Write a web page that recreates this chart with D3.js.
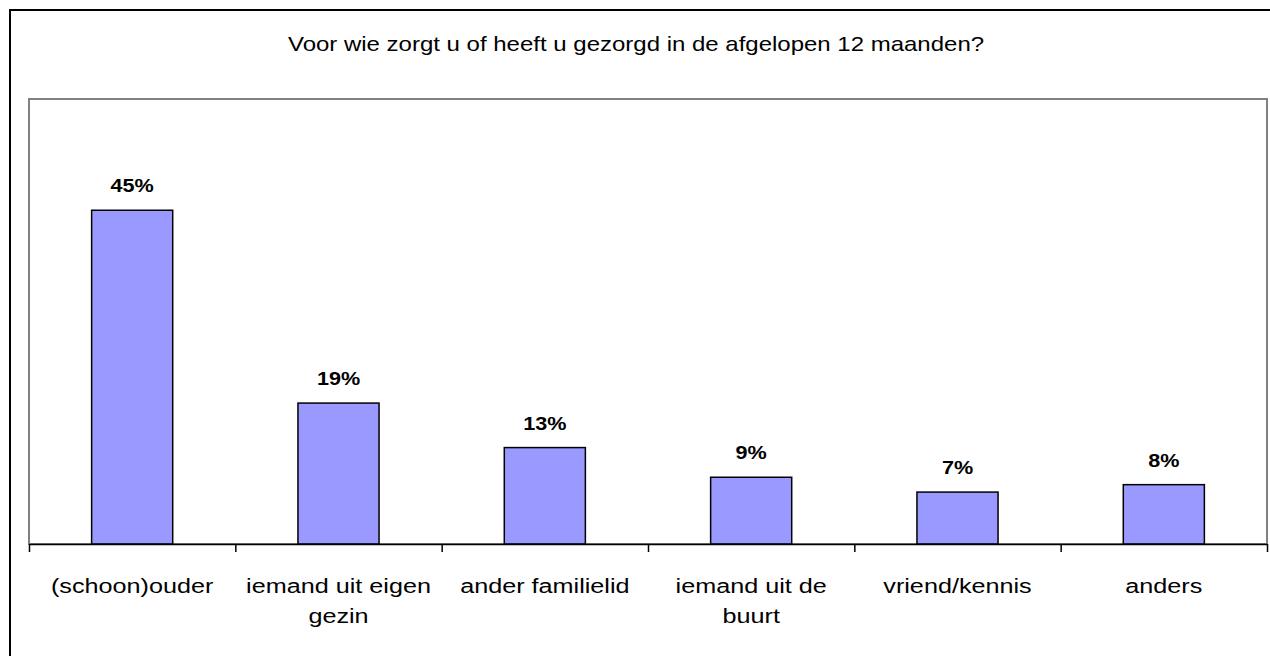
<!DOCTYPE html>
<html>
<head>
<meta charset="utf-8">
<script src="https://cdn.jsdelivr.net/npm/d3@7"></script>
<style>
  body { margin: 0; background: #fff; }
  text { font-family: "Liberation Sans", Arial, sans-serif; fill: #000; }
</style>
</head>
<body>
<div id="chart"></div>
<script>
// Data
const title = "Voor wie zorgt u of heeft u gezorgd in de afgelopen 12 maanden?"
const categories = ["(schoon)ouder", "iemand uit eigen gezin", "ander familielid", "iemand uit de buurt", "vriend/kennis", "anders"]
const labelLines = [["(schoon)ouder"], ["iemand uit eigen", "gezin"], ["ander familielid"], ["iemand uit de", "buurt"], ["vriend/kennis"], ["anders"]]
const values = [45, 19, 13, 9, 7, 8]

function drawChart(container) {
    const WIDTH = 1270
    const HEIGHT = 656
    const PLOT = {LEFT: 29, RIGHT: 1267, TOP: 99, BOTTOM: 544}
    const STRETCH = 1.2   // the reference text is a bit wider than plain Arial
    const barColour = "#9999ff"

    let svg = d3.select(container).append("svg")
        .attr("width", WIDTH)
        .attr("height", HEIGHT)

    // outer chart frame (runs off the right and bottom edge)
    svg.append("rect")
        .attr("x", 10).attr("y", 10)
        .attr("width", 1300).attr("height", 700)
        .attr("fill", "none").attr("stroke", "#000").attr("stroke-width", 2)

    // plot area frame
    svg.append("rect")
        .attr("x", PLOT.LEFT).attr("y", PLOT.TOP)
        .attr("width", PLOT.RIGHT - PLOT.LEFT).attr("height", PLOT.BOTTOM - PLOT.TOP)
        .attr("fill", "none").attr("stroke", "#808080").attr("stroke-width", 2)

    // title
    svg.append("text")
        .attr("transform", "translate(636,51) scale(" + STRETCH + ",1)")
        .attr("text-anchor", "middle")
        .style("font-size", "20px")
        .text(title)

    let xScale = d3.scaleBand()
        .domain(categories)
        .range([PLOT.LEFT, PLOT.RIGHT])
        .paddingInner(0.607)
        .paddingOuter(0.3035)

    let yScale = d3.scaleLinear()
        .domain([0, 60])
        .range([PLOT.BOTTOM, PLOT.TOP])

    // bars
    svg.selectAll("rect.bar").data(values).join("rect")
        .attr("class", "bar")
        .attr("x", (d, i) => xScale(categories[i]))
        .attr("y", d => yScale(d))
        .attr("width", xScale.bandwidth())
        .attr("height", d => yScale(0) - yScale(d))
        .attr("fill", barColour)
        .attr("stroke", "#000")
        .attr("stroke-width", 1.5)

    // value labels
    svg.selectAll("text.value").data(values).join("text")
        .attr("class", "value")
        .attr("transform", (d, i) => "translate(" + (xScale(categories[i]) + xScale.bandwidth() / 2) + "," + (yScale(d) - 18) + ") scale(" + STRETCH + ",1)")
        .attr("text-anchor", "middle")
        .style("font-size", "18px")
        .style("font-weight", "bold")
        .text(d => d + "%")

    // x axis with ticks between the categories
    let edgeScale = d3.scaleLinear().domain([0, categories.length]).range([PLOT.LEFT, PLOT.RIGHT])
    let axis = svg.append("g")
        .attr("transform", "translate(0," + PLOT.BOTTOM + ")")
        .call(d3.axisBottom(edgeScale).tickValues(d3.range(categories.length + 1)).tickFormat("").tickSize(8).tickSizeOuter(0))
    axis.select(".domain").attr("stroke", "#000").attr("stroke-width", 1.5)
    axis.selectAll(".tick line").attr("stroke", "#000").attr("stroke-width", 1.5)

    // category labels
    let catLabels = svg.selectAll("text.cat").data(labelLines).join("text")
        .attr("class", "cat")
        .attr("transform", (d, i) => "translate(" + (xScale(categories[i]) + xScale.bandwidth() / 2) + ",593) scale(" + STRETCH + ",1)")
        .attr("text-anchor", "middle")
        .style("font-size", "21px")
    catLabels.selectAll("tspan").data(d => d).join("tspan")
        .attr("x", 0)
        .attr("y", (d, j) => j * 30)
        .text(d => d)
}

drawChart("#chart")
</script>
</body>
</html>
